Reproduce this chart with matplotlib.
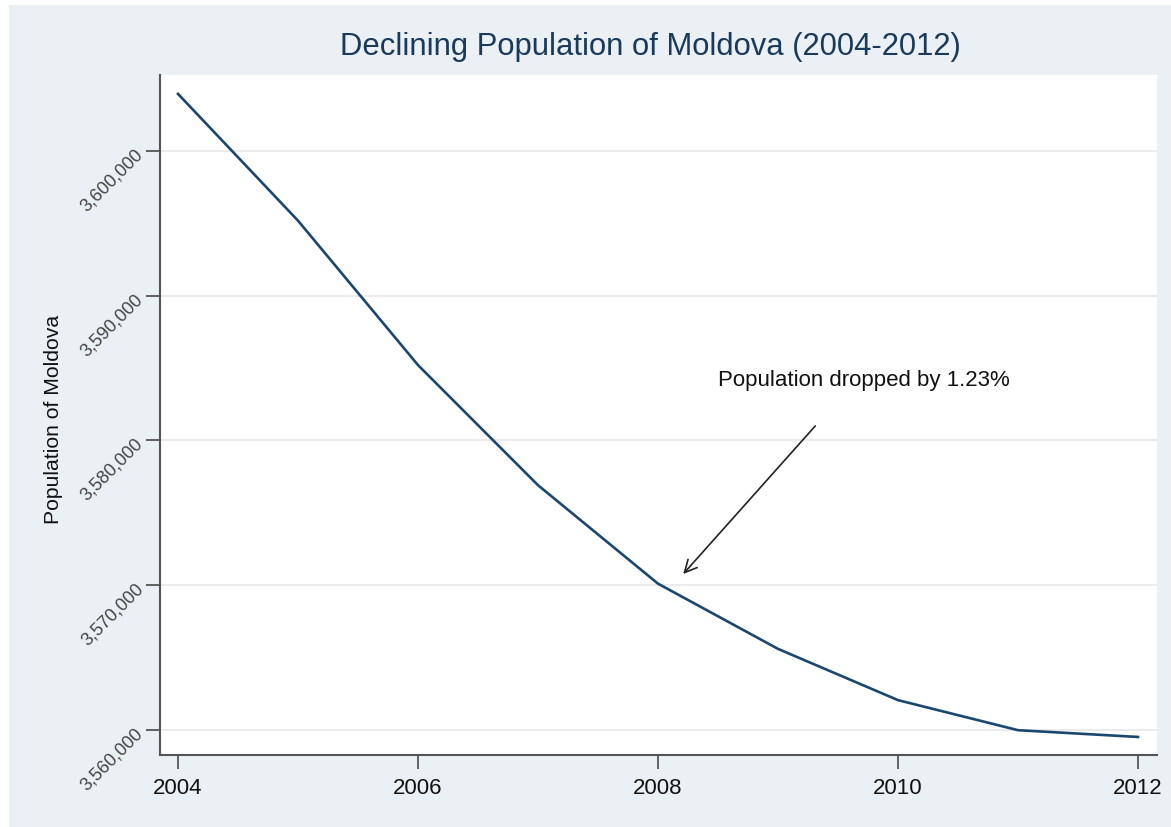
import matplotlib.pyplot as plt
from matplotlib.patches import Rectangle
from matplotlib.ticker import FuncFormatter

plt.rcParams.update({
    'font.family': ['Liberation Sans', 'DejaVu Sans'],
})

years = [2004, 2005, 2006, 2007, 2008, 2009, 2010, 2011, 2012]
population = [3603945, 3595187, 3585209, 3576910, 3570108, 3565604, 3562062, 3559986, 3559519]
x_ticks = [2004, 2006, 2008, 2010, 2012]
y_ticks = [3560000, 3570000, 3580000, 3590000, 3600000]

bg = '#eaf0f3'
navy = '#1a476f'

fig = plt.figure(figsize=(11.71, 8.28), dpi=100, facecolor='white')
fig.patches.append(Rectangle((9 / 1171, 0), 1, 1 - 6 / 828, transform=fig.transFigure,
                             facecolor=bg, edgecolor='none', zorder=-10))

ax = fig.add_axes([160 / 1171, 1 - 756 / 828, (1157 - 160) / 1171, (756 - 76) / 828])
ax.set_facecolor('white')

ax.plot(years, population, color=navy, linewidth=1.9, zorder=3)

ax.set_xlim(2003.85, 2012.158)
ax.set_ylim(3558273, 3605250)
ax.set_xticks(x_ticks)
ax.set_yticks(y_ticks)
ax.yaxis.set_major_formatter(FuncFormatter(lambda v, p: f'{int(v):,}'))

ax.grid(axis='y', color='#e8e8e8', linewidth=1.2, zorder=0)
ax.set_axisbelow(True)

for s in ['top', 'right']:
    ax.spines[s].set_visible(False)
for s in ['left', 'bottom']:
    ax.spines[s].set_color('#555555')
    ax.spines[s].set_linewidth(1.5)

ax.tick_params(axis='x', direction='out', length=10, width=1.3, color='#555555',
               labelsize=16, pad=6, labelcolor='#111111')
ax.tick_params(axis='y', direction='out', length=10, width=1.3, color='#555555',
               labelsize=13, pad=4, labelcolor='#444444')
for lab in ax.get_yticklabels():
    lab.set_rotation(45)
    lab.set_ha('right')
    lab.set_va('center')
    lab.set_rotation_mode('anchor')

ax.set_ylabel('Population of Moldova', fontsize=15.2, color='#111111')
ax.yaxis.set_label_coords(-0.097, 0.4956)

fig.text(0.555, 1 - 47 / 828, 'Declining Population of Moldova (2004-2012)',
         ha='center', va='center', fontsize=22.3, color='#1a3a5c')

ax.annotate('', xy=(2008.21, 3570777), xytext=(2009.31, 3581002),
            arrowprops=dict(arrowstyle='->', color='#222222', lw=1.2,
                            mutation_scale=22, shrinkA=0, shrinkB=0))
ax.text(2008.5, 3584180, 'Population dropped by 1.23%', fontsize=16,
        color='#111111', ha='left', va='center')

fig.savefig('out.png', dpi=100, facecolor=fig.get_facecolor())
